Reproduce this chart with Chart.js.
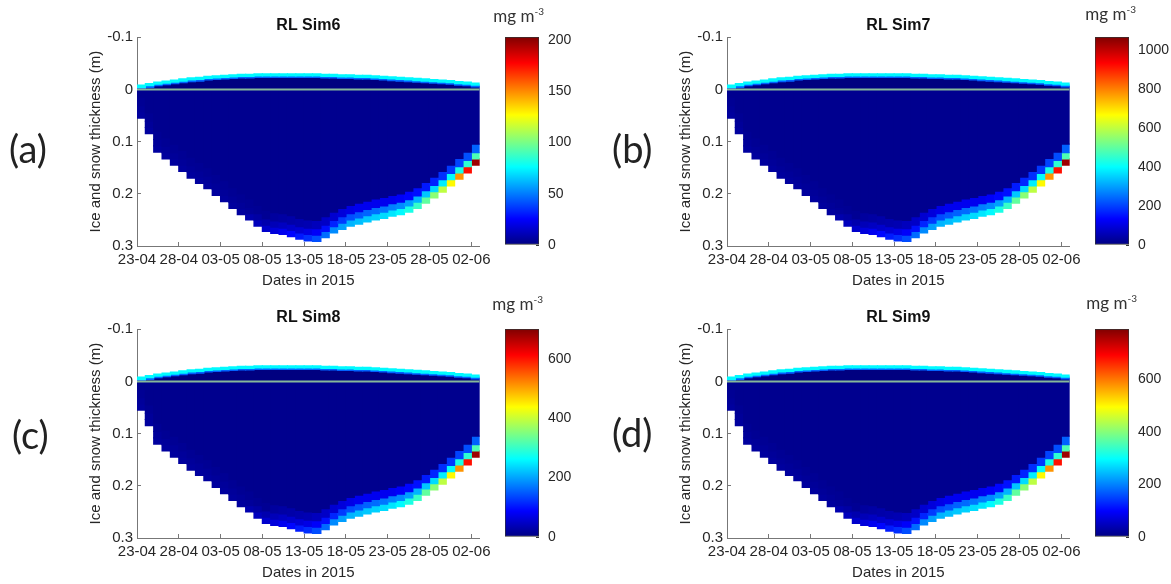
<!DOCTYPE html>
<html>
<head>
<meta charset="utf-8">
<script src="https://cdn.jsdelivr.net/npm/chart.js@4.4.1/dist/chart.umd.min.js"></script>
<style>
  html, body { margin: 0; padding: 0; background: #fff; overflow: hidden; }
  #fig { position: relative; width: 1171px; height: 584px; }
  #fig canvas { position: absolute; }
  .tag { position: absolute; font-family: Lato, 'Open Sans', sans-serif; font-size: 38px; line-height: 44px; color: #222; }
  .unit { position: absolute; width: 72px; text-align: right; font-family: Lato, 'Open Sans', sans-serif; font-size: 17px; line-height: 20px; color: #333; }
  .unit sup { font-size: 10px; vertical-align: 7px; line-height: 0; }
</style>
</head>
<body>
<div id="fig"></div>
<script>
// date ticks every 5 days from 23-04 (day 0)
const dateTicks = ['23-04', '28-04', '03-05', '08-05', '13-05', '18-05', '23-05', '28-05', '02-06'];
const dayCount = 41;

// snow surface (m, negative = above ice) and ice bottom (m), one value per day
const snowTop = [-0.008, -0.011, -0.014, -0.016, -0.018, -0.02, -0.022, -0.023, -0.025, -0.026, -0.027, -0.028, -0.029, -0.029,
  -0.03, -0.03, -0.03, -0.03, -0.03, -0.03, -0.03, -0.03, -0.029, -0.029, -0.028, -0.028, -0.027, -0.027, -0.026, -0.025,
  -0.024, -0.023, -0.022, -0.021, -0.02, -0.019, -0.018, -0.017, -0.015, -0.014, -0.012];
const iceBottom = [0.055, 0.085, 0.12, 0.133, 0.145, 0.157, 0.17, 0.18, 0.19, 0.203, 0.215, 0.228, 0.24, 0.25, 0.262, 0.272,
  0.276, 0.278, 0.282, 0.287, 0.29, 0.291, 0.284, 0.275, 0.268, 0.262, 0.258, 0.254, 0.25, 0.247, 0.243, 0.24, 0.235, 0.228,
  0.218, 0.208, 0.197, 0.185, 0.172, 0.16, 0.145];

// chl-a (mg m-3) in the bottom layers: bottom cell, the one above, and the one above that
const sim6Bottom = [6, 6, 6, 6, 6, 6, 6, 6, 6, 6, 6, 6, 6, 9, 12, 15, 18, 22, 26, 30, 35, 41, 47, 53, 57, 61, 63, 65, 67, 69, 71, 75, 81, 87, 95, 104, 114, 128, 148, 175, 197];
const sim6Second = [5, 5, 5, 5, 5, 5, 5, 5, 5, 5, 5, 5, 5, 5, 7, 9, 11, 13, 15, 17, 20, 24, 28, 32, 37, 41, 43, 45, 47, 49, 51, 53, 57, 61, 65, 69, 73, 77, 81, 85, 91];
const sim6Third = [4, 4, 4, 4, 4, 4, 4, 4, 4, 4, 4, 4, 4, 4, 4, 4, 6, 7, 8, 9, 10, 12, 14, 16, 18, 20, 22, 22, 22, 22, 22, 24, 26, 28, 30, 32, 35, 37, 39, 41, 45];

const sim7Bottom = [32, 32, 32, 32, 32, 32, 32, 32, 32, 32, 32, 32, 32, 48, 64, 80, 96, 117, 139, 160, 181, 213, 245, 277, 298, 320, 330, 341, 352, 362, 373, 394, 426, 458, 501, 544, 597, 672, 778, 917, 1034];
const sim7Second = [27, 27, 27, 27, 27, 27, 27, 27, 27, 27, 27, 27, 27, 27, 37, 48, 59, 69, 80, 91, 107, 128, 149, 171, 192, 213, 224, 235, 245, 256, 267, 277, 298, 320, 341, 362, 384, 405, 426, 448, 480];
const sim7Third = [21, 21, 21, 21, 21, 21, 21, 21, 21, 21, 21, 21, 21, 21, 21, 21, 32, 37, 43, 48, 53, 64, 75, 85, 96, 107, 117, 117, 117, 117, 117, 128, 139, 149, 160, 171, 181, 192, 203, 213, 235];

const sim8Bottom = [21, 21, 21, 21, 21, 21, 21, 21, 21, 21, 21, 21, 21, 32, 42, 53, 63, 77, 91, 105, 119, 140, 161, 182, 196, 210, 217, 224, 231, 238, 245, 259, 280, 301, 329, 357, 392, 441, 511, 602, 679];
const sim8Second = [18, 18, 18, 18, 18, 18, 18, 18, 18, 18, 18, 18, 18, 18, 25, 32, 39, 46, 53, 60, 70, 84, 98, 112, 126, 140, 147, 154, 161, 168, 175, 182, 196, 210, 224, 238, 252, 266, 280, 294, 315];
const sim8Third = [14, 14, 14, 14, 14, 14, 14, 14, 14, 14, 14, 14, 14, 14, 14, 14, 21, 25, 28, 32, 35, 42, 49, 56, 63, 70, 77, 77, 77, 77, 77, 84, 91, 98, 105, 112, 119, 126, 133, 140, 154];

const sim9Bottom = [24, 24, 24, 24, 24, 24, 24, 24, 24, 24, 24, 24, 24, 36, 47, 59, 71, 87, 103, 119, 134, 158, 182, 205, 221, 237, 245, 253, 261, 269, 277, 292, 316, 340, 371, 403, 442, 498, 577, 679, 766];
const sim9Second = [20, 20, 20, 20, 20, 20, 20, 20, 20, 20, 20, 20, 20, 20, 28, 36, 43, 51, 59, 67, 79, 95, 111, 126, 142, 158, 166, 174, 182, 190, 198, 205, 221, 237, 253, 269, 284, 300, 316, 332, 356];
const sim9Third = [16, 16, 16, 16, 16, 16, 16, 16, 16, 16, 16, 16, 16, 16, 16, 16, 24, 28, 32, 36, 40, 47, 55, 63, 71, 79, 87, 87, 87, 87, 87, 95, 103, 111, 119, 126, 134, 142, 150, 158, 174];

// colour bar ticks
const cTicks6 = [0, 50, 100, 150, 200];
const cTicks7 = [0, 200, 400, 600, 800, 1000];
const cTicks8 = [0, 200, 400, 600];
const cTicks9 = [0, 200, 400, 600];

const panels = [
  { tag: '(a)', title: 'RL Sim6', cMax: 203, cTicks: cTicks6, bottom: sim6Bottom, second: sim6Second, third: sim6Third, interior: 3, snowEdge: 75, snowMid: 45 },
  { tag: '(b)', title: 'RL Sim7', cMax: 1066, cTicks: cTicks7, bottom: sim7Bottom, second: sim7Second, third: sim7Third, interior: 16, snowEdge: 394, snowMid: 235 },
  { tag: '(c)', title: 'RL Sim8', cMax: 700, cTicks: cTicks8, bottom: sim8Bottom, second: sim8Second, third: sim8Third, interior: 10, snowEdge: 259, snowMid: 154 },
  { tag: '(d)', title: 'RL Sim9', cMax: 790, cTicks: cTicks9, bottom: sim9Bottom, second: sim9Second, third: sim9Third, interior: 12, snowEdge: 292, snowMid: 174 },
];

// layout of the 2x2 figure
const origins = [[0, 0], [590, 0], [0, 292], [590, 292]];
const tagPos = [[9, 126], [612, 126], [12, 412], [612, 410]];
const unitPos = [[472, 6], [1064, 4], [471, 294], [1065, 293]];

const FONT = "'Liberation Sans', Arial, sans-serif";
const TEXT = '#262626';
const AXIS = '#777';
const jetStops = [[0, '#000080'], [0.125, '#0000ff'], [0.375, '#00ffff'], [0.625, '#ffff00'], [0.875, '#ff0000'], [1, '#800000']];

function jet(v, max) {
  const t = Math.max(0, Math.min(1, v / max));
  const ch = (c) => Math.round(255 * Math.max(0, Math.min(1, 1.5 - Math.abs(4 * t - c))));
  return `rgb(${ch(3)},${ch(2)},${ch(1)})`;
}

const days = Array.from({ length: dayCount }, (_, i) => i);

function layer(tops, bottoms, colors) {
  return {
    type: 'bar',
    data: days.map((d) => ({ x: d + 0.5, y: [tops[d], bottoms[d]] })),
    backgroundColor: colors,
    borderWidth: 0,
    inflateAmount: 0.6,
    grouped: false,
    barPercentage: 1,
    categoryPercentage: 1,
    order: 1,
  };
}

function makeCanvas(left, top, w, h) {
  const c = document.createElement('canvas');
  c.width = w; c.height = h;
  c.style.left = left + 'px'; c.style.top = top + 'px';
  c.style.width = w + 'px'; c.style.height = h + 'px';
  document.getElementById('fig').appendChild(c);
  return c;
}

function addText(cls, html, left, top) {
  const el = document.createElement('div');
  el.className = cls;
  el.innerHTML = html;
  el.style.left = left + 'px';
  el.style.top = top + 'px';
  document.getElementById('fig').appendChild(el);
}

panels.forEach((p, k) => {
  const [ox, oy] = origins[k];
  const col = (vals) => vals.map((v) => jet(v, p.cMax));
  const flat = (v) => days.map(() => jet(v, p.cMax));

  const edgeBottom = days.map((d) => snowTop[d] + 0.004);
  const midBottom = days.map((d) => snowTop[d] + 0.007);
  const zero = days.map(() => 0);
  const l3 = days.map((d) => iceBottom[d] - 0.04);
  const l2 = days.map((d) => iceBottom[d] - 0.024);
  const l1 = days.map((d) => iceBottom[d] - 0.012);

  new Chart(makeCanvas(ox, oy, 500, 292), {
    type: 'bar',
    data: {
      datasets: [
        { type: 'line', data: [{ x: 0, y: 0 }, { x: dayCount, y: 0 }], borderColor: '#86b89a', borderWidth: 2, pointRadius: 0, order: 0 },
        layer(snowTop, edgeBottom, flat(p.snowEdge)),
        layer(edgeBottom, midBottom, flat(p.snowMid)),
        layer(midBottom, zero, flat(0)),
        layer(zero, l3, flat(p.interior)),
        layer(l3, l2, col(p.third)),
        layer(l2, l1, col(p.second)),
        layer(l1, iceBottom, col(p.bottom)),
      ],
    },
    options: {
      animation: false,
      responsive: false,
      layout: { padding: { left: 87, right: 18, top: 0, bottom: 0 } },
      plugins: {
        legend: { display: false },
        tooltip: { enabled: false },
        title: {
          display: true, text: p.title, fullSize: false, color: '#111',
          font: { family: FONT, size: 16, weight: 'bold' }, padding: { top: 16, bottom: 2 },
        },
      },
      scales: {
        x: {
          type: 'linear', min: 0, max: dayCount, offset: false,
          afterFit: (s) => { s.height = 46; },
          border: { color: AXIS, width: 1 },
          grid: { drawOnChartArea: false, drawTicks: true, tickLength: -4, color: AXIS, offset: false },
          ticks: {
            stepSize: 5, autoSkip: false, maxRotation: 0, includeBounds: false, padding: 9,
            color: TEXT, font: { family: FONT, size: 15 },
            callback: (v) => dateTicks[v / 5] ?? '',
          },
          title: { display: true, text: 'Dates in 2015', color: TEXT, font: { family: FONT, size: 15 }, padding: { top: 0, bottom: 2 } },
        },
        y: {
          type: 'linear', reverse: true, min: -0.1, max: 0.3,
          afterFit: (s) => { s.width = 50; },
          border: { color: AXIS, width: 1 },
          grid: { drawOnChartArea: false, drawTicks: true, tickLength: -4, color: AXIS },
          ticks: { stepSize: 0.1, padding: 8, color: TEXT, font: { family: FONT, size: 15 } },
          title: { display: true, text: 'Ice and snow thickness (m)', color: TEXT, font: { family: FONT, size: 15 }, padding: { top: 0, bottom: 0 } },
        },
      },
    },
  });

  // colour bar
  new Chart(makeCanvas(ox + 495, oy, 86, 292), {
    type: 'bar',
    data: {
      labels: [''],
      datasets: [{
        data: [[0, p.cMax]],
        backgroundColor: (ctx) => {
          const area = ctx.chart.chartArea;
          if (!area) return '#000080';
          const g = ctx.chart.ctx.createLinearGradient(0, area.bottom, 0, area.top);
          jetStops.forEach(([t, c]) => g.addColorStop(t, c));
          return g;
        },
        borderColor: '#333',
        borderWidth: 1,
        borderSkipped: false,
        barPercentage: 1,
        categoryPercentage: 1,
      }],
    },
    options: {
      animation: false,
      responsive: false,
      layout: { padding: { left: 10, right: 0, top: 37, bottom: 47 } },
      plugins: { legend: { display: false }, tooltip: { enabled: false } },
      scales: {
        x: { display: false },
        y: {
          position: 'right', min: 0, max: p.cMax,
          afterFit: (s) => { s.width = 42; },
          afterBuildTicks: (s) => { s.ticks = p.cTicks.map((value) => ({ value })); },
          border: { display: false },
          grid: { drawOnChartArea: false, drawTicks: true, tickLength: -3, color: '#333' },
          ticks: { padding: 12, color: TEXT, font: { family: FONT, size: 14 }, callback: (v) => String(v) },
        },
      },
    },
  });

  addText('tag', p.tag, tagPos[k][0], tagPos[k][1]);
  addText('unit', 'mg m<sup>-3</sup>', unitPos[k][0], unitPos[k][1]);
});
</script>
</body>
</html>
